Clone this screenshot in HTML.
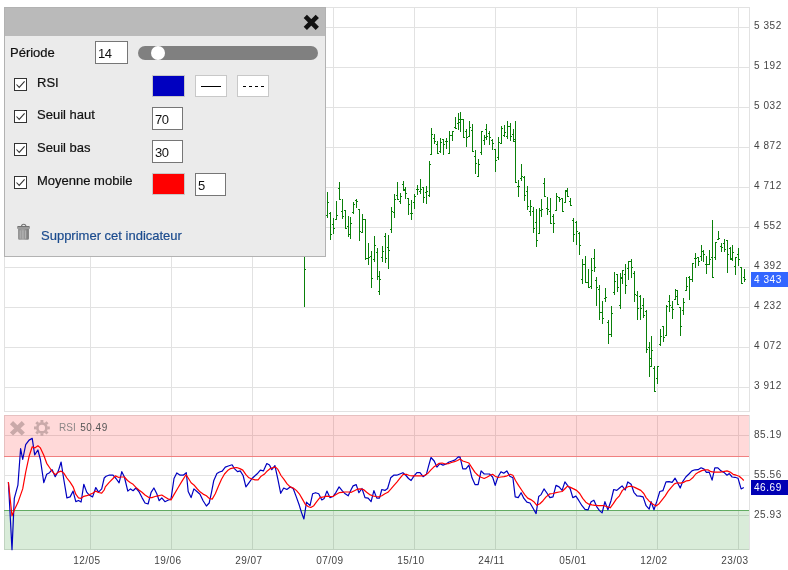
<!DOCTYPE html>
<html><head><meta charset="utf-8"><title>RSI</title>
<style>
html,body{margin:0;padding:0;background:#fff}
body{width:788px;height:570px;position:relative;overflow:hidden;font-family:"Liberation Sans",Arial,sans-serif}
svg{position:absolute;left:0;top:0}
svg text{font-family:"Liberation Sans",Arial,sans-serif;font-size:10px;letter-spacing:.6px;fill:#444}
.panel{position:absolute;left:4px;top:7px;width:320px;height:248px;border:1px solid #b2b2b2;background:#ebebeb;font-size:13px;color:#111}
.hd{position:absolute;left:0;top:0;width:320px;height:28px;background:#bababa}
.lbl{position:absolute;white-space:nowrap;line-height:15px;-webkit-text-stroke:.2px currentColor}
.cb{position:absolute;left:9px;width:11px;height:11px;border:1px solid #333;background:#fff}
.cb svg{left:0;top:0}
.inp{position:absolute;width:29px;height:21px;border:1px solid #767676;background:#fff;box-sizing:content-box}
.inp span{position:absolute;left:2px;top:4px;line-height:15px;letter-spacing:-.5px}
.sw{position:absolute;width:31px;height:20px;border:1px solid #c8c8c8}
.track{position:absolute;left:133px;top:38px;width:180px;height:14px;border-radius:7px;background:#808080}
.thumb{position:absolute;left:146px;top:38px;width:14px;height:14px;border-radius:7px;background:#fff}
.lnk{color:#1b4b8e}
</style></head><body>
<svg width="788" height="570" viewBox="0 0 788 570">

<g shape-rendering="crispEdges" fill="#e2e2e2">
<rect x="90" y="7" width="1" height="405"/>
<rect x="90" y="415" width="1" height="135"/>
<rect x="171" y="7" width="1" height="405"/>
<rect x="171" y="415" width="1" height="135"/>
<rect x="252" y="7" width="1" height="405"/>
<rect x="252" y="415" width="1" height="135"/>
<rect x="333" y="7" width="1" height="405"/>
<rect x="333" y="415" width="1" height="135"/>
<rect x="414" y="7" width="1" height="405"/>
<rect x="414" y="415" width="1" height="135"/>
<rect x="495" y="7" width="1" height="405"/>
<rect x="495" y="415" width="1" height="135"/>
<rect x="576" y="7" width="1" height="405"/>
<rect x="576" y="415" width="1" height="135"/>
<rect x="657" y="7" width="1" height="405"/>
<rect x="657" y="415" width="1" height="135"/>
<rect x="738" y="7" width="1" height="405"/>
<rect x="738" y="415" width="1" height="135"/>
<rect x="4" y="27" width="746" height="1"/>
<rect x="4" y="67" width="746" height="1"/>
<rect x="4" y="107" width="746" height="1"/>
<rect x="4" y="147" width="746" height="1"/>
<rect x="4" y="187" width="746" height="1"/>
<rect x="4" y="227" width="746" height="1"/>
<rect x="4" y="267" width="746" height="1"/>
<rect x="4" y="307" width="746" height="1"/>
<rect x="4" y="347" width="746" height="1"/>
<rect x="4" y="387" width="746" height="1"/>
<rect x="4" y="7" width="746" height="1"/><rect x="4" y="411" width="746" height="1"/><rect x="4" y="7" width="1" height="405"/><rect x="749" y="7" width="1" height="405"/>
<rect x="4" y="435" width="746" height="1"/>
<rect x="4" y="475" width="746" height="1"/>
<rect x="4" y="515" width="746" height="1"/>
<rect x="749" y="415" width="1" height="135"/><rect x="4" y="415" width="1" height="135"/><rect x="4" y="415" width="746" height="1"/><rect x="4" y="549" width="746" height="1"/>
</g>
<g shape-rendering="crispEdges">
<rect x="4" y="415" width="745" height="41" fill="rgba(255,0,0,0.15)"/>
<rect x="4" y="456" width="745" height="1" fill="#f08080"/>
<rect x="4" y="511" width="745" height="39" fill="rgba(0,128,0,0.15)"/>
<rect x="4" y="510" width="745" height="1" fill="#62ab62"/>
</g>
<g shape-rendering="crispEdges" fill="#0a800a">
<rect x="304" y="240" width="1" height="67"/>
<rect x="305" y="269" width="1" height="1"/>
<rect x="327" y="192" width="1" height="26"/>
<rect x="326" y="215" width="1" height="1"/>
<rect x="328" y="202" width="1" height="1"/>
<rect x="330" y="212" width="1" height="28"/>
<rect x="329" y="213" width="1" height="1"/>
<rect x="331" y="234" width="1" height="1"/>
<rect x="333" y="218" width="1" height="16"/>
<rect x="332" y="224" width="1" height="1"/>
<rect x="334" y="228" width="1" height="1"/>
<rect x="336" y="201" width="1" height="19"/>
<rect x="335" y="219" width="1" height="1"/>
<rect x="337" y="215" width="1" height="1"/>
<rect x="339" y="182" width="1" height="18"/>
<rect x="338" y="188" width="1" height="1"/>
<rect x="340" y="199" width="1" height="1"/>
<rect x="342" y="199" width="1" height="20"/>
<rect x="341" y="211" width="1" height="1"/>
<rect x="343" y="216" width="1" height="1"/>
<rect x="345" y="210" width="1" height="19"/>
<rect x="344" y="210" width="1" height="1"/>
<rect x="346" y="228" width="1" height="1"/>
<rect x="348" y="216" width="1" height="21"/>
<rect x="347" y="226" width="1" height="1"/>
<rect x="349" y="234" width="1" height="1"/>
<rect x="350" y="217" width="1" height="22"/>
<rect x="349" y="234" width="1" height="1"/>
<rect x="351" y="223" width="1" height="1"/>
<rect x="353" y="202" width="1" height="12"/>
<rect x="352" y="212" width="1" height="1"/>
<rect x="354" y="204" width="1" height="1"/>
<rect x="356" y="199" width="1" height="9"/>
<rect x="355" y="200" width="1" height="1"/>
<rect x="357" y="201" width="1" height="1"/>
<rect x="359" y="209" width="1" height="32"/>
<rect x="358" y="209" width="1" height="1"/>
<rect x="360" y="231" width="1" height="1"/>
<rect x="362" y="214" width="1" height="19"/>
<rect x="361" y="232" width="1" height="1"/>
<rect x="363" y="219" width="1" height="1"/>
<rect x="365" y="219" width="1" height="41"/>
<rect x="364" y="219" width="1" height="1"/>
<rect x="366" y="258" width="1" height="1"/>
<rect x="368" y="243" width="1" height="22"/>
<rect x="367" y="258" width="1" height="1"/>
<rect x="369" y="257" width="1" height="1"/>
<rect x="371" y="251" width="1" height="37"/>
<rect x="370" y="256" width="1" height="1"/>
<rect x="372" y="278" width="1" height="1"/>
<rect x="374" y="236" width="1" height="26"/>
<rect x="373" y="259" width="1" height="1"/>
<rect x="375" y="245" width="1" height="1"/>
<rect x="377" y="248" width="1" height="32"/>
<rect x="376" y="252" width="1" height="1"/>
<rect x="378" y="276" width="1" height="1"/>
<rect x="379" y="271" width="1" height="24"/>
<rect x="378" y="291" width="1" height="1"/>
<rect x="380" y="279" width="1" height="1"/>
<rect x="382" y="246" width="1" height="16"/>
<rect x="381" y="257" width="1" height="1"/>
<rect x="383" y="251" width="1" height="1"/>
<rect x="385" y="233" width="1" height="30"/>
<rect x="384" y="236" width="1" height="1"/>
<rect x="386" y="258" width="1" height="1"/>
<rect x="388" y="235" width="1" height="34"/>
<rect x="387" y="247" width="1" height="1"/>
<rect x="389" y="250" width="1" height="1"/>
<rect x="391" y="207" width="1" height="26"/>
<rect x="390" y="229" width="1" height="1"/>
<rect x="392" y="211" width="1" height="1"/>
<rect x="394" y="194" width="1" height="24"/>
<rect x="393" y="212" width="1" height="1"/>
<rect x="395" y="199" width="1" height="1"/>
<rect x="397" y="182" width="1" height="18"/>
<rect x="396" y="195" width="1" height="1"/>
<rect x="398" y="199" width="1" height="1"/>
<rect x="400" y="193" width="1" height="11"/>
<rect x="399" y="201" width="1" height="1"/>
<rect x="401" y="196" width="1" height="1"/>
<rect x="403" y="181" width="1" height="10"/>
<rect x="402" y="184" width="1" height="1"/>
<rect x="404" y="189" width="1" height="1"/>
<rect x="405" y="187" width="1" height="12"/>
<rect x="404" y="190" width="1" height="1"/>
<rect x="406" y="193" width="1" height="1"/>
<rect x="408" y="198" width="1" height="17"/>
<rect x="407" y="198" width="1" height="1"/>
<rect x="409" y="204" width="1" height="1"/>
<rect x="411" y="200" width="1" height="20"/>
<rect x="410" y="213" width="1" height="1"/>
<rect x="412" y="213" width="1" height="1"/>
<rect x="414" y="194" width="1" height="15"/>
<rect x="413" y="202" width="1" height="1"/>
<rect x="415" y="196" width="1" height="1"/>
<rect x="417" y="185" width="1" height="10"/>
<rect x="416" y="189" width="1" height="1"/>
<rect x="418" y="189" width="1" height="1"/>
<rect x="420" y="179" width="1" height="15"/>
<rect x="419" y="191" width="1" height="1"/>
<rect x="421" y="189" width="1" height="1"/>
<rect x="423" y="187" width="1" height="16"/>
<rect x="422" y="187" width="1" height="1"/>
<rect x="424" y="197" width="1" height="1"/>
<rect x="426" y="186" width="1" height="18"/>
<rect x="425" y="192" width="1" height="1"/>
<rect x="427" y="191" width="1" height="1"/>
<rect x="429" y="161" width="1" height="36"/>
<rect x="428" y="195" width="1" height="1"/>
<rect x="430" y="164" width="1" height="1"/>
<rect x="431" y="128" width="1" height="27"/>
<rect x="430" y="154" width="1" height="1"/>
<rect x="432" y="134" width="1" height="1"/>
<rect x="434" y="134" width="1" height="10"/>
<rect x="433" y="138" width="1" height="1"/>
<rect x="435" y="141" width="1" height="1"/>
<rect x="437" y="141" width="1" height="13"/>
<rect x="436" y="144" width="1" height="1"/>
<rect x="438" y="153" width="1" height="1"/>
<rect x="440" y="138" width="1" height="15"/>
<rect x="439" y="151" width="1" height="1"/>
<rect x="441" y="142" width="1" height="1"/>
<rect x="443" y="139" width="1" height="16"/>
<rect x="442" y="139" width="1" height="1"/>
<rect x="444" y="144" width="1" height="1"/>
<rect x="446" y="138" width="1" height="11"/>
<rect x="445" y="141" width="1" height="1"/>
<rect x="447" y="141" width="1" height="1"/>
<rect x="449" y="131" width="1" height="23"/>
<rect x="448" y="153" width="1" height="1"/>
<rect x="450" y="135" width="1" height="1"/>
<rect x="452" y="131" width="1" height="10"/>
<rect x="451" y="135" width="1" height="1"/>
<rect x="453" y="131" width="1" height="1"/>
<rect x="455" y="117" width="1" height="12"/>
<rect x="454" y="127" width="1" height="1"/>
<rect x="456" y="128" width="1" height="1"/>
<rect x="458" y="113" width="1" height="17"/>
<rect x="457" y="123" width="1" height="1"/>
<rect x="459" y="119" width="1" height="1"/>
<rect x="460" y="112" width="1" height="20"/>
<rect x="459" y="122" width="1" height="1"/>
<rect x="461" y="119" width="1" height="1"/>
<rect x="463" y="119" width="1" height="19"/>
<rect x="462" y="119" width="1" height="1"/>
<rect x="464" y="137" width="1" height="1"/>
<rect x="466" y="129" width="1" height="18"/>
<rect x="465" y="131" width="1" height="1"/>
<rect x="467" y="137" width="1" height="1"/>
<rect x="469" y="121" width="1" height="16"/>
<rect x="468" y="136" width="1" height="1"/>
<rect x="470" y="127" width="1" height="1"/>
<rect x="472" y="124" width="1" height="28"/>
<rect x="471" y="130" width="1" height="1"/>
<rect x="473" y="151" width="1" height="1"/>
<rect x="475" y="150" width="1" height="24"/>
<rect x="474" y="156" width="1" height="1"/>
<rect x="476" y="163" width="1" height="1"/>
<rect x="478" y="159" width="1" height="18"/>
<rect x="477" y="176" width="1" height="1"/>
<rect x="479" y="164" width="1" height="1"/>
<rect x="481" y="131" width="1" height="24"/>
<rect x="480" y="152" width="1" height="1"/>
<rect x="482" y="131" width="1" height="1"/>
<rect x="484" y="135" width="1" height="10"/>
<rect x="483" y="140" width="1" height="1"/>
<rect x="485" y="137" width="1" height="1"/>
<rect x="486" y="124" width="1" height="16"/>
<rect x="485" y="129" width="1" height="1"/>
<rect x="487" y="136" width="1" height="1"/>
<rect x="489" y="131" width="1" height="14"/>
<rect x="488" y="133" width="1" height="1"/>
<rect x="490" y="137" width="1" height="1"/>
<rect x="492" y="139" width="1" height="11"/>
<rect x="491" y="140" width="1" height="1"/>
<rect x="493" y="143" width="1" height="1"/>
<rect x="495" y="149" width="1" height="23"/>
<rect x="494" y="149" width="1" height="1"/>
<rect x="496" y="160" width="1" height="1"/>
<rect x="498" y="137" width="1" height="23"/>
<rect x="497" y="157" width="1" height="1"/>
<rect x="499" y="142" width="1" height="1"/>
<rect x="501" y="126" width="1" height="18"/>
<rect x="500" y="143" width="1" height="1"/>
<rect x="502" y="128" width="1" height="1"/>
<rect x="504" y="125" width="1" height="12"/>
<rect x="503" y="135" width="1" height="1"/>
<rect x="505" y="132" width="1" height="1"/>
<rect x="507" y="121" width="1" height="18"/>
<rect x="506" y="136" width="1" height="1"/>
<rect x="508" y="126" width="1" height="1"/>
<rect x="510" y="123" width="1" height="18"/>
<rect x="509" y="126" width="1" height="1"/>
<rect x="511" y="136" width="1" height="1"/>
<rect x="513" y="129" width="1" height="13"/>
<rect x="512" y="134" width="1" height="1"/>
<rect x="514" y="141" width="1" height="1"/>
<rect x="515" y="121" width="1" height="62"/>
<rect x="514" y="139" width="1" height="1"/>
<rect x="516" y="182" width="1" height="1"/>
<rect x="518" y="180" width="1" height="17"/>
<rect x="517" y="186" width="1" height="1"/>
<rect x="519" y="186" width="1" height="1"/>
<rect x="521" y="164" width="1" height="17"/>
<rect x="520" y="178" width="1" height="1"/>
<rect x="522" y="176" width="1" height="1"/>
<rect x="524" y="176" width="1" height="25"/>
<rect x="523" y="177" width="1" height="1"/>
<rect x="525" y="195" width="1" height="1"/>
<rect x="527" y="186" width="1" height="24"/>
<rect x="526" y="191" width="1" height="1"/>
<rect x="528" y="206" width="1" height="1"/>
<rect x="530" y="200" width="1" height="16"/>
<rect x="529" y="211" width="1" height="1"/>
<rect x="531" y="206" width="1" height="1"/>
<rect x="533" y="207" width="1" height="26"/>
<rect x="532" y="211" width="1" height="1"/>
<rect x="534" y="228" width="1" height="1"/>
<rect x="536" y="209" width="1" height="38"/>
<rect x="535" y="222" width="1" height="1"/>
<rect x="537" y="240" width="1" height="1"/>
<rect x="539" y="208" width="1" height="26"/>
<rect x="538" y="233" width="1" height="1"/>
<rect x="540" y="210" width="1" height="1"/>
<rect x="541" y="199" width="1" height="18"/>
<rect x="540" y="210" width="1" height="1"/>
<rect x="542" y="209" width="1" height="1"/>
<rect x="544" y="178" width="1" height="19"/>
<rect x="543" y="183" width="1" height="1"/>
<rect x="545" y="196" width="1" height="1"/>
<rect x="547" y="197" width="1" height="18"/>
<rect x="546" y="208" width="1" height="1"/>
<rect x="548" y="209" width="1" height="1"/>
<rect x="550" y="198" width="1" height="26"/>
<rect x="549" y="211" width="1" height="1"/>
<rect x="551" y="223" width="1" height="1"/>
<rect x="553" y="214" width="1" height="19"/>
<rect x="552" y="216" width="1" height="1"/>
<rect x="554" y="223" width="1" height="1"/>
<rect x="556" y="193" width="1" height="18"/>
<rect x="555" y="210" width="1" height="1"/>
<rect x="557" y="196" width="1" height="1"/>
<rect x="559" y="197" width="1" height="5"/>
<rect x="558" y="197" width="1" height="1"/>
<rect x="560" y="199" width="1" height="1"/>
<rect x="562" y="198" width="1" height="14"/>
<rect x="561" y="198" width="1" height="1"/>
<rect x="563" y="211" width="1" height="1"/>
<rect x="565" y="190" width="1" height="13"/>
<rect x="564" y="202" width="1" height="1"/>
<rect x="566" y="190" width="1" height="1"/>
<rect x="567" y="188" width="1" height="9"/>
<rect x="566" y="191" width="1" height="1"/>
<rect x="568" y="196" width="1" height="1"/>
<rect x="570" y="198" width="1" height="8"/>
<rect x="569" y="201" width="1" height="1"/>
<rect x="571" y="205" width="1" height="1"/>
<rect x="573" y="218" width="1" height="24"/>
<rect x="572" y="220" width="1" height="1"/>
<rect x="574" y="234" width="1" height="1"/>
<rect x="576" y="221" width="1" height="24"/>
<rect x="575" y="222" width="1" height="1"/>
<rect x="577" y="231" width="1" height="1"/>
<rect x="579" y="232" width="1" height="23"/>
<rect x="578" y="233" width="1" height="1"/>
<rect x="580" y="245" width="1" height="1"/>
<rect x="582" y="259" width="1" height="25"/>
<rect x="581" y="279" width="1" height="1"/>
<rect x="583" y="264" width="1" height="1"/>
<rect x="585" y="256" width="1" height="27"/>
<rect x="584" y="264" width="1" height="1"/>
<rect x="586" y="282" width="1" height="1"/>
<rect x="588" y="269" width="1" height="19"/>
<rect x="587" y="282" width="1" height="1"/>
<rect x="589" y="287" width="1" height="1"/>
<rect x="591" y="258" width="1" height="31"/>
<rect x="590" y="286" width="1" height="1"/>
<rect x="592" y="270" width="1" height="1"/>
<rect x="594" y="249" width="1" height="23"/>
<rect x="593" y="258" width="1" height="1"/>
<rect x="595" y="267" width="1" height="1"/>
<rect x="596" y="277" width="1" height="29"/>
<rect x="595" y="280" width="1" height="1"/>
<rect x="597" y="287" width="1" height="1"/>
<rect x="599" y="285" width="1" height="35"/>
<rect x="598" y="289" width="1" height="1"/>
<rect x="600" y="312" width="1" height="1"/>
<rect x="602" y="301" width="1" height="23"/>
<rect x="601" y="312" width="1" height="1"/>
<rect x="603" y="318" width="1" height="1"/>
<rect x="605" y="288" width="1" height="14"/>
<rect x="604" y="298" width="1" height="1"/>
<rect x="606" y="297" width="1" height="1"/>
<rect x="608" y="320" width="1" height="24"/>
<rect x="607" y="322" width="1" height="1"/>
<rect x="609" y="334" width="1" height="1"/>
<rect x="611" y="306" width="1" height="31"/>
<rect x="610" y="334" width="1" height="1"/>
<rect x="612" y="313" width="1" height="1"/>
<rect x="614" y="272" width="1" height="23"/>
<rect x="613" y="292" width="1" height="1"/>
<rect x="615" y="281" width="1" height="1"/>
<rect x="617" y="274" width="1" height="18"/>
<rect x="616" y="274" width="1" height="1"/>
<rect x="618" y="287" width="1" height="1"/>
<rect x="620" y="273" width="1" height="36"/>
<rect x="619" y="305" width="1" height="1"/>
<rect x="621" y="277" width="1" height="1"/>
<rect x="622" y="270" width="1" height="14"/>
<rect x="621" y="278" width="1" height="1"/>
<rect x="623" y="270" width="1" height="1"/>
<rect x="625" y="264" width="1" height="30"/>
<rect x="624" y="274" width="1" height="1"/>
<rect x="626" y="285" width="1" height="1"/>
<rect x="628" y="261" width="1" height="19"/>
<rect x="627" y="268" width="1" height="1"/>
<rect x="629" y="261" width="1" height="1"/>
<rect x="631" y="259" width="1" height="19"/>
<rect x="630" y="261" width="1" height="1"/>
<rect x="632" y="267" width="1" height="1"/>
<rect x="634" y="271" width="1" height="31"/>
<rect x="633" y="273" width="1" height="1"/>
<rect x="635" y="294" width="1" height="1"/>
<rect x="637" y="291" width="1" height="29"/>
<rect x="636" y="295" width="1" height="1"/>
<rect x="638" y="308" width="1" height="1"/>
<rect x="640" y="295" width="1" height="25"/>
<rect x="639" y="296" width="1" height="1"/>
<rect x="641" y="308" width="1" height="1"/>
<rect x="643" y="298" width="1" height="20"/>
<rect x="642" y="305" width="1" height="1"/>
<rect x="644" y="315" width="1" height="1"/>
<rect x="646" y="310" width="1" height="43"/>
<rect x="645" y="311" width="1" height="1"/>
<rect x="647" y="349" width="1" height="1"/>
<rect x="649" y="342" width="1" height="35"/>
<rect x="648" y="347" width="1" height="1"/>
<rect x="650" y="366" width="1" height="1"/>
<rect x="651" y="336" width="1" height="31"/>
<rect x="650" y="358" width="1" height="1"/>
<rect x="652" y="350" width="1" height="1"/>
<rect x="654" y="366" width="1" height="26"/>
<rect x="653" y="368" width="1" height="1"/>
<rect x="655" y="391" width="1" height="1"/>
<rect x="657" y="366" width="1" height="18"/>
<rect x="656" y="378" width="1" height="1"/>
<rect x="658" y="366" width="1" height="1"/>
<rect x="660" y="329" width="1" height="17"/>
<rect x="659" y="344" width="1" height="1"/>
<rect x="661" y="336" width="1" height="1"/>
<rect x="663" y="326" width="1" height="16"/>
<rect x="662" y="326" width="1" height="1"/>
<rect x="664" y="337" width="1" height="1"/>
<rect x="666" y="305" width="1" height="31"/>
<rect x="665" y="335" width="1" height="1"/>
<rect x="667" y="306" width="1" height="1"/>
<rect x="669" y="295" width="1" height="17"/>
<rect x="668" y="301" width="1" height="1"/>
<rect x="670" y="305" width="1" height="1"/>
<rect x="672" y="301" width="1" height="18"/>
<rect x="671" y="307" width="1" height="1"/>
<rect x="673" y="309" width="1" height="1"/>
<rect x="675" y="289" width="1" height="11"/>
<rect x="674" y="299" width="1" height="1"/>
<rect x="676" y="290" width="1" height="1"/>
<rect x="677" y="290" width="1" height="15"/>
<rect x="676" y="296" width="1" height="1"/>
<rect x="678" y="304" width="1" height="1"/>
<rect x="680" y="307" width="1" height="29"/>
<rect x="679" y="307" width="1" height="1"/>
<rect x="681" y="326" width="1" height="1"/>
<rect x="683" y="298" width="1" height="17"/>
<rect x="682" y="310" width="1" height="1"/>
<rect x="684" y="302" width="1" height="1"/>
<rect x="686" y="277" width="1" height="14"/>
<rect x="685" y="290" width="1" height="1"/>
<rect x="687" y="286" width="1" height="1"/>
<rect x="689" y="276" width="1" height="24"/>
<rect x="688" y="277" width="1" height="1"/>
<rect x="690" y="279" width="1" height="1"/>
<rect x="692" y="263" width="1" height="19"/>
<rect x="691" y="279" width="1" height="1"/>
<rect x="693" y="263" width="1" height="1"/>
<rect x="695" y="253" width="1" height="15"/>
<rect x="694" y="258" width="1" height="1"/>
<rect x="696" y="258" width="1" height="1"/>
<rect x="698" y="257" width="1" height="9"/>
<rect x="697" y="257" width="1" height="1"/>
<rect x="699" y="261" width="1" height="1"/>
<rect x="701" y="245" width="1" height="16"/>
<rect x="700" y="256" width="1" height="1"/>
<rect x="702" y="251" width="1" height="1"/>
<rect x="703" y="250" width="1" height="12"/>
<rect x="702" y="251" width="1" height="1"/>
<rect x="704" y="254" width="1" height="1"/>
<rect x="706" y="256" width="1" height="18"/>
<rect x="705" y="264" width="1" height="1"/>
<rect x="707" y="264" width="1" height="1"/>
<rect x="709" y="250" width="1" height="15"/>
<rect x="708" y="264" width="1" height="1"/>
<rect x="710" y="259" width="1" height="1"/>
<rect x="712" y="220" width="1" height="58"/>
<rect x="711" y="257" width="1" height="1"/>
<rect x="713" y="277" width="1" height="1"/>
<rect x="715" y="242" width="1" height="18"/>
<rect x="714" y="257" width="1" height="1"/>
<rect x="716" y="242" width="1" height="1"/>
<rect x="718" y="231" width="1" height="9"/>
<rect x="717" y="239" width="1" height="1"/>
<rect x="719" y="238" width="1" height="1"/>
<rect x="721" y="243" width="1" height="9"/>
<rect x="720" y="246" width="1" height="1"/>
<rect x="722" y="247" width="1" height="1"/>
<rect x="724" y="239" width="1" height="13"/>
<rect x="723" y="243" width="1" height="1"/>
<rect x="725" y="249" width="1" height="1"/>
<rect x="727" y="240" width="1" height="33"/>
<rect x="726" y="240" width="1" height="1"/>
<rect x="728" y="254" width="1" height="1"/>
<rect x="730" y="247" width="1" height="13"/>
<rect x="729" y="248" width="1" height="1"/>
<rect x="731" y="258" width="1" height="1"/>
<rect x="732" y="245" width="1" height="16"/>
<rect x="731" y="259" width="1" height="1"/>
<rect x="733" y="252" width="1" height="1"/>
<rect x="735" y="257" width="1" height="18"/>
<rect x="734" y="266" width="1" height="1"/>
<rect x="736" y="257" width="1" height="1"/>
<rect x="738" y="248" width="1" height="18"/>
<rect x="737" y="254" width="1" height="1"/>
<rect x="739" y="259" width="1" height="1"/>
<rect x="741" y="267" width="1" height="17"/>
<rect x="740" y="267" width="1" height="1"/>
<rect x="742" y="283" width="1" height="1"/>
<rect x="744" y="269" width="1" height="13"/>
<rect x="743" y="277" width="1" height="1"/>
<rect x="745" y="279" width="1" height="1"/>
</g>
<polyline points="8.4,482.0 12.0,549.6 14.3,498.4 17.9,485.2 20.6,448.5 22.7,459.5 25.7,444.7 29.1,440.1 32.2,438.4 34.7,454.8 37.9,450.0 40.4,459.5 43.8,482.6 46.7,474.2 49.5,472.7 52.0,469.6 55.2,476.7 58.3,471.1 61.1,462.0 63.8,479.5 66.9,497.8 70.1,496.9 73.1,491.1 75.8,501.6 78.5,500.5 81.1,502.0 83.8,484.3 86.7,492.1 89.5,495.3 92.6,496.9 95.8,487.5 98.5,492.1 101.7,488.9 104.2,478.0 106.1,476.2 109.5,475.0 113.0,475.2 116.0,478.5 119.1,482.8 121.8,471.7 124.4,477.0 127.8,491.1 130.5,488.9 133.1,490.7 135.9,488.0 138.9,491.5 142.0,497.6 145.0,503.0 148.1,504.0 151.1,492.3 153.9,488.0 156.8,493.8 159.2,500.7 161.8,497.9 164.9,501.7 167.9,500.2 171.0,499.1 174.0,478.5 176.8,472.9 180.2,475.2 183.2,475.2 186.3,472.7 188.2,491.5 191.1,497.6 193.9,488.9 196.9,491.5 200.0,494.3 203.1,500.7 206.4,506.0 209.2,503.0 211.5,492.3 213.7,480.8 216.9,473.6 219.5,472.0 222.2,471.2 225.3,467.1 228.3,466.0 232.1,464.8 234.4,468.6 237.5,471.7 240.2,470.9 243.1,475.5 245.9,486.9 248.9,482.8 252.0,478.5 255.0,475.8 257.8,473.2 260.4,470.1 263.4,470.9 266.8,463.6 269.5,465.1 271.8,469.7 274.9,465.6 277.9,479.3 280.7,493.3 283.7,488.0 286.8,489.5 290.2,486.9 293.2,488.5 296.3,496.9 299.3,505.3 301.6,512.9 303.9,519.0 306.5,502.2 310.0,505.7 312.6,493.8 315.6,492.7 318.7,493.8 321.8,499.9 324.2,498.4 326.9,491.1 329.9,497.6 333.0,496.5 336.0,492.3 339.1,486.9 342.1,490.7 345.2,493.8 348.2,495.8 351.3,489.2 353.1,485.9 356.2,484.6 358.9,492.7 362.0,488.5 365.0,497.6 368.1,498.1 371.1,501.7 373.9,490.7 376.8,498.1 379.5,498.1 381.8,489.5 384.9,490.4 387.6,488.5 390.7,477.8 393.7,475.2 396.8,475.2 399.8,474.0 402.9,472.7 406.0,475.5 408.5,478.5 411.1,480.5 413.9,476.2 416.9,472.7 420.0,472.7 423.1,476.7 426.4,474.3 428.7,465.6 431.0,457.5 434.2,461.0 436.9,467.1 439.9,463.7 443.0,465.1 446.0,464.0 449.1,462.0 452.1,461.0 455.2,459.9 458.2,456.9 460.1,457.2 462.8,468.9 465.9,468.9 468.9,465.1 472.0,477.8 475.0,484.6 478.1,484.6 481.1,470.9 484.2,474.0 487.3,474.0 489.5,474.0 492.6,477.0 495.2,485.4 497.9,477.0 501.0,471.7 503.7,473.2 506.8,470.9 509.8,476.2 512.9,477.8 515.2,496.9 518.2,497.6 521.1,492.7 523.9,498.4 526.9,502.2 530.0,503.0 533.1,508.3 536.1,513.6 538.7,496.5 541.1,494.6 544.0,488.9 546.9,493.0 549.9,497.6 553.0,496.9 556.0,485.4 559.1,486.9 562.1,490.4 564.9,481.9 567.5,485.4 570.1,488.5 572.8,497.6 575.9,496.1 578.9,500.7 582.0,505.7 585.0,509.4 588.1,509.8 591.1,501.7 593.9,500.2 596.8,506.8 599.5,510.6 602.1,512.9 604.9,501.7 607.9,509.8 611.0,500.7 613.7,489.5 616.8,490.4 619.8,487.7 622.1,485.9 625.2,490.0 627.8,481.9 631.1,484.3 633.9,492.3 636.9,495.8 640.0,496.1 643.1,496.9 646.1,505.7 649.2,509.1 651.1,501.7 654.0,509.8 656.8,501.4 659.8,491.5 662.9,490.7 666.0,481.9 669.0,481.6 672.1,482.4 675.1,478.2 677.4,482.4 680.2,488.0 682.7,481.6 685.8,477.0 688.9,474.0 691.9,470.9 695.0,469.8 698.0,469.7 701.1,467.8 704.1,469.1 706.4,472.4 709.2,472.1 712.1,480.1 714.8,467.8 717.9,467.8 720.9,470.9 724.0,472.4 727.0,475.2 729.3,473.6 732.1,477.0 735.0,477.3 738.0,478.2 741.1,488.9 743.8,487.4" fill="none" stroke="#0000c0" stroke-width="1.2" stroke-linejoin="round"/>
<polyline points="8.4,482.0 12.0,515.9 14.3,510.0 17.9,502.6 22.7,488.9 25.7,472.1 29.1,456.3 32.2,446.8 34.7,447.9 37.9,445.8 40.4,447.9 43.8,455.3 46.7,463.3 49.5,467.5 52.0,471.1 55.2,474.6 58.3,472.1 61.1,471.1 63.8,473.2 66.9,478.0 70.1,482.2 73.1,486.8 75.8,494.2 78.5,497.8 81.1,498.4 83.8,496.3 86.7,495.7 89.5,494.6 92.6,493.2 95.8,491.1 98.5,492.5 101.7,493.2 104.2,490.0 105.3,486.9 109.2,482.4 113.0,478.5 115.3,475.9 118.3,477.3 121.4,477.0 124.4,477.0 127.5,480.5 130.5,482.8 133.1,484.3 135.9,487.4 138.9,490.0 142.0,492.3 145.0,495.0 148.9,497.6 151.9,497.6 155.0,496.5 158.0,495.8 161.8,495.0 164.9,496.9 167.9,498.8 171.0,499.9 174.0,494.6 177.9,488.0 181.7,481.6 186.0,474.7 188.5,478.5 191.1,482.8 193.9,484.9 196.9,488.5 200.0,491.8 203.1,494.1 206.4,495.8 209.2,498.4 212.2,499.1 215.3,493.8 218.4,486.2 221.5,479.3 224.5,474.0 227.6,470.6 230.6,468.6 233.7,467.8 236.7,467.5 239.8,468.6 242.8,470.1 245.9,474.7 248.9,477.8 252.0,479.0 255.0,479.8 258.1,479.8 261.1,476.2 264.2,474.3 267.3,470.9 270.3,468.6 273.4,467.5 275.6,467.1 277.9,469.4 281.0,475.5 284.0,479.3 287.1,483.9 290.2,486.9 293.2,488.0 296.3,490.4 299.3,493.8 302.4,499.1 305.4,504.5 308.5,506.8 310.8,507.5 313.8,505.7 316.9,501.4 319.9,497.6 323.7,496.9 326.9,496.1 329.9,496.5 333.0,496.5 336.0,494.6 339.1,492.7 342.1,492.3 345.2,492.0 348.2,492.0 351.3,492.3 354.4,490.7 357.4,489.2 360.5,488.9 363.5,489.5 366.6,492.3 369.6,494.6 372.7,495.8 375.7,496.5 378.8,496.9 381.8,495.8 384.9,493.8 387.9,492.3 391.0,488.9 394.0,485.4 397.1,481.9 400.2,477.8 403.2,474.3 406.3,474.3 409.3,475.5 412.4,475.9 415.4,475.9 418.5,475.9 421.5,475.9 424.6,475.5 427.6,473.6 430.7,470.1 433.7,467.1 436.1,465.6 439.2,463.3 442.2,463.0 445.3,464.0 448.3,463.7 451.4,462.5 454.4,461.7 457.5,460.5 460.1,459.0 462.8,461.0 465.9,462.0 468.9,463.0 472.0,467.8 475.0,472.4 478.1,475.5 481.1,477.3 484.2,478.5 487.3,477.0 490.3,475.2 492.6,474.3 495.2,476.2 497.9,477.5 501.0,477.0 504.0,476.7 507.1,475.8 510.2,474.3 512.9,475.2 515.5,480.5 518.5,485.4 521.6,490.0 524.7,494.6 527.7,498.1 530.8,499.6 533.8,501.7 536.9,505.3 539.9,503.7 543.0,500.7 546.1,496.9 549.9,493.8 553.0,493.5 556.0,492.6 559.1,492.0 562.1,491.5 565.2,488.5 567.5,486.2 570.5,487.4 573.6,488.9 576.6,490.4 579.7,493.5 582.7,498.4 585.8,502.2 588.9,504.2 591.9,504.9 595.0,505.3 598.0,505.7 601.1,505.7 604.1,505.7 607.2,506.8 610.2,507.8 613.3,503.7 616.3,499.1 619.4,495.8 622.4,490.4 625.5,488.0 628.5,486.5 631.6,486.2 634.7,487.4 637.7,488.9 640.8,490.4 643.8,493.5 646.1,497.6 649.2,501.1 652.2,503.7 656.0,506.0 659.1,503.7 662.1,499.9 665.2,495.8 668.2,491.2 671.3,487.4 674.4,483.9 677.4,482.8 680.5,483.1 683.5,482.4 686.6,480.8 689.6,480.4 692.7,477.8 695.7,474.0 698.8,472.1 701.8,470.6 704.9,469.8 707.9,469.8 711.0,471.7 714.0,472.1 717.1,472.1 720.2,472.1 723.2,471.7 727.0,470.9 730.1,472.1 733.1,474.3 736.2,475.2 739.2,476.2 741.5,478.2 743.8,480.5" fill="none" stroke="#ff0000" stroke-width="1.2" stroke-linejoin="round"/>
<text x="753.9" y="29">5 352</text>
<text x="753.9" y="69">5 192</text>
<text x="753.9" y="109">5 032</text>
<text x="753.9" y="149">4 872</text>
<text x="753.9" y="189">4 712</text>
<text x="753.9" y="229">4 552</text>
<text x="753.9" y="269">4 392</text>
<text x="753.9" y="309">4 232</text>
<text x="753.9" y="349">4 072</text>
<text x="753.9" y="389">3 912</text>
<text x="753.9" y="437.6">85.19</text>
<text x="753.9" y="477.6">55.56</text>
<text x="753.9" y="517.6">25.93</text>
<text x="73.2" y="564" style="letter-spacing:.45px">12/05</text>
<text x="154.2" y="564" style="letter-spacing:.45px">19/06</text>
<text x="235.2" y="564" style="letter-spacing:.45px">29/07</text>
<text x="316.2" y="564" style="letter-spacing:.45px">07/09</text>
<text x="397.2" y="564" style="letter-spacing:.45px">15/10</text>
<text x="478.2" y="564" style="letter-spacing:.45px">24/11</text>
<text x="559.2" y="564" style="letter-spacing:.45px">05/01</text>
<text x="640.2" y="564" style="letter-spacing:.45px">12/02</text>
<text x="721.2" y="564" style="letter-spacing:.45px">23/03</text>
<rect x="751" y="272" width="37" height="15" fill="#3366ff" shape-rendering="crispEdges"/><text x="753.9" y="283" style="fill:#fff">4 343</text>
<rect x="751" y="480" width="37" height="15" fill="#0000b4" shape-rendering="crispEdges"/><text x="753.9" y="491" style="fill:#fff">46.69</text>
<g stroke="#c9a9a9" stroke-width="4.5" fill="none"><path d="M11.5 422.6L23.3 434M23.3 422.6L11.5 434"/></g>
<g stroke="#c9a9a9" fill="none"><circle cx="41.9" cy="427.9" r="4.55" stroke-width="2.7"/>
<line x1="47.30" y1="427.90" x2="49.80" y2="427.90" stroke-width="2.9"/>
<line x1="45.72" y1="431.72" x2="47.49" y2="433.49" stroke-width="2.9"/>
<line x1="41.90" y1="433.30" x2="41.90" y2="435.80" stroke-width="2.9"/>
<line x1="38.08" y1="431.72" x2="36.31" y2="433.49" stroke-width="2.9"/>
<line x1="36.50" y1="427.90" x2="34.00" y2="427.90" stroke-width="2.9"/>
<line x1="38.08" y1="424.08" x2="36.31" y2="422.31" stroke-width="2.9"/>
<line x1="41.90" y1="422.50" x2="41.90" y2="420.00" stroke-width="2.9"/>
<line x1="45.72" y1="424.08" x2="47.49" y2="422.31" stroke-width="2.9"/>
</g>
<text x="59" y="430.9" style="fill:#8c8787;letter-spacing:.1px">RSI</text><text x="80.2" y="430.9" style="fill:#555;letter-spacing:.5px">50.49</text>
</svg>

<div class="panel"><div class="hd"></div>
<svg width="20" height="20" style="left:296.4px;top:3.8px" viewBox="0 0 20 20"><path d="M4.3 4.4L16.3 16.4M16.3 4.4L4.3 16.4" stroke="#111" stroke-width="4.6" fill="none"/></svg>
<div class="lbl" style="left:5px;top:37px">Période</div>
<div class="inp" style="left:90px;top:33px;width:31px"><span>14</span></div>
<div class="track"></div><div class="thumb"></div>
<div class="cb" style="top:70px"><svg width="11" height="11" viewBox="0 0 11 11"><path d="M1.5 5.5L4.2 8.4L9.6 2.3" stroke="#333" stroke-width="1.1" fill="none"/></svg></div>
<div class="lbl" style="left:32px;top:67px">RSI</div>
<div class="cb" style="top:102px"><svg width="11" height="11" viewBox="0 0 11 11"><path d="M1.5 5.5L4.2 8.4L9.6 2.3" stroke="#333" stroke-width="1.1" fill="none"/></svg></div>
<div class="lbl" style="left:32px;top:99px">Seuil haut</div>
<div class="cb" style="top:135px"><svg width="11" height="11" viewBox="0 0 11 11"><path d="M1.5 5.5L4.2 8.4L9.6 2.3" stroke="#333" stroke-width="1.1" fill="none"/></svg></div>
<div class="lbl" style="left:32px;top:132px">Seuil bas</div>
<div class="cb" style="top:168px"><svg width="11" height="11" viewBox="0 0 11 11"><path d="M1.5 5.5L4.2 8.4L9.6 2.3" stroke="#333" stroke-width="1.1" fill="none"/></svg></div>
<div class="lbl" style="left:32px;top:165px">Moyenne mobile</div>
<div class="sw" style="left:147px;top:67px;background:#0000c0"></div>
<div class="sw" style="left:190px;top:67px;width:30px;background:#fff"><svg width="30" height="20"><rect x="5" y="10" width="20" height="1" fill="#000" shape-rendering="crispEdges"/></svg></div>
<div class="sw" style="left:232px;top:67px;width:30px;background:#fff"><svg width="30" height="20"><g fill="#000" shape-rendering="crispEdges"><rect x="5" y="10" width="3" height="1"/><rect x="11" y="10" width="3" height="1"/><rect x="17" y="10" width="3" height="1"/><rect x="23" y="10" width="3" height="1"/></g></svg></div>
<div class="inp" style="left:147px;top:99px"><span>70</span></div>
<div class="inp" style="left:147px;top:132px"><span>30</span></div>
<div class="sw" style="left:147px;top:165px;background:#ff0000"></div>
<div class="inp" style="left:190px;top:165px"><span>5</span></div>
<svg width="16" height="20" style="left:11px;top:214px" viewBox="0 0 16 20"><defs><linearGradient id="tg" x1="0" x2="1" y1="0" y2="0"><stop offset="0" stop-color="#8a8a8a"/><stop offset=".45" stop-color="#a2a2a2"/><stop offset="1" stop-color="#787878"/></linearGradient></defs><path d="M5.5 4.3a2.2 2.1 0 0 1 4.4 0" fill="none" stroke="#767676" stroke-width="1.1"/><rect x="1" y="4.1" width="13" height="3" rx="1.1" fill="#9a9a9a"/><rect x="1.8" y="4.1" width="11.4" height=".9" fill="#6e6e6e"/><path d="M2.1 7h10.8v9.4a1.3 1.3 0 0 1-1.3 1.3H3.4a1.3 1.3 0 0 1-1.3-1.3z" fill="url(#tg)"/><g stroke="#b6b6b6" stroke-width="1"><path d="M4.2 8.4v8.2M6.9 8.4v8.2M9.6 8.4v8.2"/></g></svg>
<div class="lbl lnk" style="left:36px;top:220px">Supprimer cet indicateur</div>
</div>
</body></html>
